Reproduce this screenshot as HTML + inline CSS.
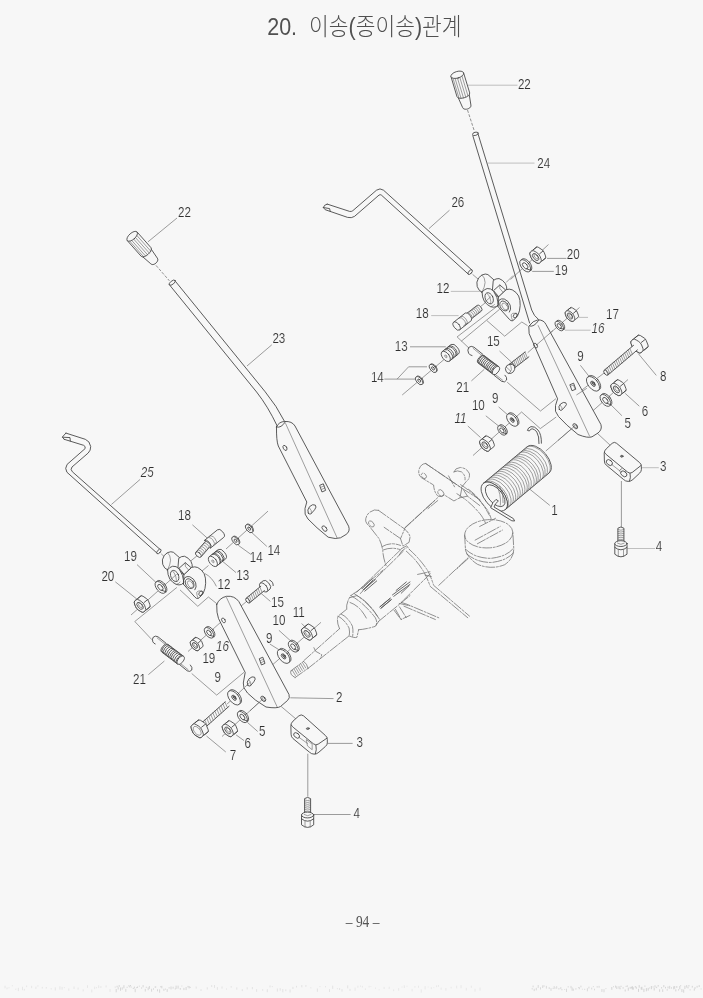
<!DOCTYPE html>
<html lang="ko"><head><meta charset="utf-8"><title>20. 이송(종이송)관계</title>
<style>
html,body{margin:0;padding:0;background:#f7f7f7}
body{width:703px;height:998px;overflow:hidden;position:relative}
svg{position:absolute;left:0;top:0;display:block;filter:grayscale(1)}
text{font-family:"Liberation Sans","Noto Sans CJK KR",sans-serif}
.lb{stroke:#f7f7f7;stroke-width:.14}
.pg{font-family:"Liberation Serif","Noto Serif CJK KR",serif}
.ti{font-family:"Liberation Sans","Noto Sans CJK KR",sans-serif;font-weight:300}
*{vector-effect:non-scaling-stroke}
.m{stroke:#414141;stroke-width:.86;stroke-linecap:round;stroke-linejoin:round}
.n{stroke:none}
.t{stroke:#5c5c5c;stroke-width:.58;stroke-linecap:round;fill:none}
.l{stroke:#626262;stroke-width:.62;fill:none}
.f{stroke:#999;stroke-width:.6;fill:none}
.d{stroke:#666;stroke-width:.7;fill:none;stroke-dasharray:3 1.5}
.p2{stroke:#5a5a5a;stroke-width:.9;fill:none;stroke-linecap:round}
.p{stroke:#6e6e6e;stroke-width:.75;fill:none;stroke-dasharray:9 1.6 2 1.6;stroke-linecap:round;stroke-linejoin:round}
</style></head>
<body>
<svg width="703" height="998" viewBox="0 0 703 998">
<rect width="703" height="998" fill="#f7f7f7"/>
<path class="l" d="M449.5 210.2L429.0 228.6" fill="none" />
<path class="l" d="M547.0 258.4L566.3 258.4" fill="none" />
<path class="l" d="M532.2 271.4L553.8 271.4" fill="none" />
<path class="l" d="M410.0 346.8L445.8 346.8" fill="none" />
<path class="l" d="M499.5 351.0L511.0 361.7" fill="none" />
<path class="l" d="M580.4 365.3L589.4 376.8" fill="none" />
<path class="l" d="M638.3 353.6L656.3 375.4" fill="none" />
<path class="l" d="M384.3 379.1L397.1 379.1L408.6 366.8L427.0 366.8" fill="none" />
<path class="l" d="M397.1 379.1L415.0 379.1" fill="none" />
<path class="l" d="M471.4 380.9L484.2 369.4" fill="none" />
<path class="l" d="M625.2 393.4L639.3 406.2" fill="none" />
<path class="l" d="M611.1 405.0L621.9 415.7" fill="none" />
<path class="l" d="M485.8 415.8L498.6 426.0" fill="none" />
<path class="l" d="M498.6 406.9L508.8 415.8" fill="none" />
<path class="l" d="M467.8 426.0L480.6 437.6" fill="none" />
<path class="l" d="M529.3 488.8L549.8 505.4" fill="none" />
<path class="l" d="M177.0 218.0L147.9 241.9" fill="none" />
<path class="l" d="M271.8 344.8L247.0 366.0" fill="none" />
<path class="l" d="M140.1 479.4L111.4 504.5" fill="none" />
<path class="l" d="M192.4 524.8L207.6 538.4" fill="none" />
<path class="l" d="M238.3 545.3L250.9 554.4" fill="none" />
<path class="l" d="M252.0 532.8L266.8 546.4" fill="none" />
<path class="l" d="M137.0 564.6L156.2 582.6" fill="none" />
<path class="l" d="M115.3 581.8L137.0 599.2" fill="none" />
<path class="l" d="M222.4 561.2L236.0 572.6" fill="none" />
<path class="l" d="M261.1 593.4L270.4 601.4" fill="none" />
<path class="l" d="M301.7 623.5L306.2 628.0" fill="none" />
<path class="l" d="M278.9 630.3L290.3 640.6" fill="none" />
<path class="l" d="M269.8 644.0L278.9 649.7" fill="none" />
<path class="l" d="M148.4 674.6L164.4 661.0" fill="none" />
<path class="l" d="M290.3 697.8L333.5 698.6" fill="none" />
<path class="l" d="M247.4 722.4L257.7 731.5" fill="none" />
<path class="l" d="M236.1 734.9L244.0 740.6" fill="none" />
<path class="l" d="M206.5 736.0L225.8 752.0" fill="none" />
<path class="l" d="M327.7 743.4L352.6 743.4" fill="none" />
<path class="l" d="M313.4 814.5L350.6 814.5" fill="none" />
<path class="l" d="M513.1 275.5L506.1 282.5" fill="none" />
<path class="l" d="M469.2 348.3L457.1 336.9L496.9 306.4" fill="none" />
<path class="l" d="M486.9 320.6L504.7 336.2L521.8 322.0L527.5 325.6" fill="none" />
<path class="l" d="M461.3 341.2L499.7 309.2" fill="none" />
<path class="l" d="M402.2 395.0L444.5 359.1" fill="none" />
<path class="l" d="M548.5 244.5L510.5 279.5" fill="none" />
<path class="l" d="M579.5 307.5L537.0 344.5" fill="none" />
<path class="l" d="M527.7 352.7L534.4 346.8" fill="none" />
<path class="l" d="M606.0 371.5L573.5 396.5" fill="none" />
<path class="l" d="M628.0 379.5L577.5 424.5" fill="none" />
<path class="l" d="M473.0 455.5L521.6 412.0L540.3 428.6L556.2 417.0" fill="none" />
<path class="l" d="M507.2 382.2L540.5 411.0L556.0 398.6" fill="none" />
<path class="l" d="M574.0 426.7L545.8 451.0" fill="none" />
<path class="l" d="M268.0 511.1L226.0 549.0" fill="none" />
<path class="l" d="M208.5 565.5L195.0 577.0" fill="none" />
<path class="l" d="M198.0 555.0L189.5 562.0" fill="none" />
<path class="l" d="M172.0 578.5L131.0 615.0" fill="none" />
<path class="l" d="M176.9 587.4L134.8 621.5L151.9 639.7" fill="none" />
<path class="l" d="M180.0 589.9L197.8 606.3L208.4 597.0L217.3 604.1" fill="none" />
<path class="l" d="M247.6 600.6L240.6 606.4" fill="none" />
<path class="l" d="M223.4 619.8L188.0 651.5" fill="none" />
<path class="l" d="M321.0 622.3L266.0 670.5" fill="none" />
<path class="l" d="M191.7 673.5L216.7 695.1L244.0 672.3" fill="none" />
<path class="l" d="M227.0 704.2L250.9 681.4" fill="none" />
<path class="l" d="M222.0 736.5L263.0 698.8" fill="none" />
<path class="l" d="M204.9 573.6Q212 577 216.4 586.4" fill="none" />
<path class="f" d="M468.0 85.2L517.5 85.2" fill="none" />
<path class="f" d="M487.6 163.1L534.5 163.1" fill="none" />
<path class="f" d="M450.8 291.4L484.0 291.4" fill="none" />
<path class="f" d="M431.2 315.6L458.6 315.6" fill="none" />
<path class="f" d="M578.6 317.4L588.0 317.4" fill="none" />
<path class="f" d="M565.0 330.2L590.6 330.2" fill="none" />
<path class="f" d="M642.1 467.7L658.8 467.7" fill="none" />
<path class="f" d="M627.3 548.5L655.0 548.5" fill="none" />
<path class="l" d="M597.0 433.0L611.0 446.0"/>
<path class="l" d="M621.4 481.0L621.4 527.2"/>
<path class="l" d="M281.2 706.5L296.0 719.0"/>
<path class="l" d="M307.8 753.7L307.8 796.6"/>
<path class="m" d="M457.7 96.5L462.6 107.5C463.8 111.1 472.0 108.6 470.9 105.0L469.0 93.1" fill="#f7f7f7" />
<path class="m" d="M451.0 76.7L457.0 96.7C458.5 100.5 470.5 96.9 469.7 92.9L463.6 72.9" fill="#f7f7f7" />
<path class="t" d="M462.0 76.1L468.0 96.0"/>
<path class="t" d="M459.8 77.4L465.8 97.2"/>
<path class="t" d="M457.5 78.2L463.5 98.0"/>
<path class="t" d="M455.1 78.5L461.1 98.4"/>
<path class="t" d="M453.0 78.3L459.0 98.2"/>
<ellipse class="m" cx="457.3" cy="74.8" rx="3.3" ry="6.6" fill="#f7f7f7" transform="rotate(73.2 457.3 74.8)"/>
<path class="m" d="M141.7 255.9L150.8 263.8C153.4 266.7 159.8 260.9 157.3 258.1L150.5 248.1" fill="#f7f7f7" />
<path class="m" d="M127.3 240.6L141.2 256.3C144.2 259.1 153.4 250.9 151.0 247.7L137.1 232.0" fill="#f7f7f7" />
<path class="t" d="M136.9 235.5L150.7 251.1"/>
<path class="t" d="M135.5 237.6L149.3 253.1"/>
<path class="t" d="M133.8 239.2L147.6 254.8"/>
<path class="t" d="M131.8 240.5L145.6 256.1"/>
<path class="t" d="M129.8 241.2L143.6 256.8"/>
<ellipse class="m" cx="132.2" cy="236.3" rx="3.2" ry="6.5" fill="#f7f7f7" transform="rotate(48.4 132.2 236.3)"/>
<path class="d" d="M467.5 110.0L474.5 131.5"/>
<path class="d" d="M156.0 265.4L169.4 280.8"/>
<path class="m" d="M472.8 135.6L529.6 323M478.2 134.4L531.7 310Q533.8 316 538.5 319.5" fill="none" />
<ellipse class="m" cx="475.4" cy="133.8" rx="2.9" ry="1.6" fill="#f7f7f7" transform="rotate(-15.0 475.4 133.8)"/>
<path class="m" d="M169 284.3L256.6 392Q268 406.5 277.2 426M175.4 281.3L265.2 391.8Q276.8 406 284.6 421.5" fill="none" />
<ellipse class="m" cx="172.3" cy="282.6" rx="3.6" ry="1.7" fill="#f7f7f7" transform="rotate(-38.0 172.3 282.6)"/>
<path class="m" d="M529 326Q533 320.5 538 319.8Q544 320 546 324.5L600.9 424.5Q602.5 429.5 598 433L592 436.8Q588 438.5 578 434.5Q566 425 558.5 416.5Q554 411.5 555.5 405.5L557.6 398.8L529.3 334Z" fill="#f7f7f7" />
<path class="t" d="M538.2 325.6L589.6 436.2" fill="none" />
<path class="m" d="M529.5 326Q534 327.5 538.5 320.5" fill="none" />
<ellipse class="m" cx="535.6" cy="345.6" rx="1.6" ry="2.6" fill="none" transform="rotate(-30.0 535.6 345.6)"/>
<path class="m" d="M570.2 384.6L573.6 383.2L575.8 389.2L572.4 390.6Z" fill="none" />
<path class="t" d="M571.3 385.9L573.4 385L575 389" fill="none" />
<path class="m" d="M559.3 409.5Q557.8 406.5 560.5 404Q563.5 401.5 565.8 402.8Q567.5 404.3 565 406.8L561.6 410.2Q560 410.8 559.3 409.5Z" fill="none" />
<path class="t" d="M560.3 405.3Q562.5 407.5 562.2 409.5" fill="none" />
<ellipse class="m" cx="575.3" cy="426.2" rx="1.8" ry="3.0" fill="none" transform="rotate(-40.0 575.3 426.2)"/>
<ellipse class="t" cx="575.8" cy="426.5" rx="1.0" ry="1.9" fill="none" transform="rotate(-40.0 575.8 426.5)"/>
<path class="m" d="M276.5 426.8Q279 421.5 284.8 421.5Q292 421 295 426L348.6 526.2Q350.5 531.5 346 534.5L340.5 537.8Q336 539.5 328.2 537.2Q316 527.5 308 519Q303.8 514.5 305 508.5L306.8 502L278.3 446Q276.3 441 276.5 426.8Z" fill="#f7f7f7" />
<path class="t" d="M285.6 423.5L337 537.6" fill="none" />
<path class="m" d="M276.8 427Q281 428.5 285.4 421.8" fill="none" />
<ellipse class="m" cx="285.0" cy="447.9" rx="1.7" ry="2.8" fill="none" transform="rotate(-30.0 285.0 447.9)"/>
<path class="m" d="M320 485.2L323.3 483.8L325.6 490.4L322.3 491.8Z" fill="none" />
<path class="t" d="M320.8 487.3L324.1 485.9M321.6 489.4L324.9 488" fill="none" />
<path class="m" d="M308.3 513.2Q306.6 510 309.6 506.6Q312.8 503.6 315.3 505.1Q317 506.8 314.6 509.8L310.8 514Q309 514.6 308.3 513.2Z" fill="none" />
<path class="t" d="M309.6 508Q312 510.3 311.5 513" fill="none" />
<ellipse class="m" cx="324.5" cy="528.6" rx="1.9" ry="3.2" fill="none" transform="rotate(-40.0 324.5 528.6)"/>
<path class="m" d="M216.7 604.6Q219 598 226.5 596.3Q234.5 595.5 238.8 601.5L289 694.5Q290.3 698 287.5 700.5L280.5 706.5Q277 708.8 266 707Q254 700 247.5 693Q242.5 687.5 243.3 683L245.2 672.5L218.5 618.5Q216.4 613 216.7 604.6Z" fill="#f7f7f7" />
<path class="t" d="M226.5 597.5L277.3 707.2" fill="none" />
<ellipse class="m" cx="223.5" cy="620.4" rx="1.6" ry="2.6" fill="none" transform="rotate(-30.0 223.5 620.4)"/>
<path class="m" d="M259.6 658.6L262.8 657.2L265 663.4L261.8 664.8Z" fill="none" />
<path class="t" d="M260.4 660.6L263.6 659.2M261.2 662.6L264.4 661.2" fill="none" />
<path class="m" d="M247.7 685.2Q246 682 249 678.8Q252.2 675.8 254.6 677.2Q256.2 678.8 253.8 681.8L250.2 686Q248.4 686.6 247.7 685.2Z" fill="none" />
<path class="t" d="M249 680Q251.4 682.3 250.9 685" fill="none" />
<ellipse class="m" cx="263.3" cy="698.8" rx="1.9" ry="3.1" fill="none" transform="rotate(-40.0 263.3 698.8)"/>
<ellipse class="t" cx="263.8" cy="699.1" rx="1.0" ry="1.9" fill="none" transform="rotate(-40.0 263.8 699.1)"/>
<path class="m" d="M327.2 204.1L349.6 211.4Q351.4 211.8 352.8 210.7L376.5 190.2Q380 187.6 383.5 190.2L471.7 269.8M323.3 207.5L325.2 209.7L347.6 217.4Q351.5 218.4 354.5 216.4L379 195.1Q380.2 194.2 381.5 195.2L468.5 274.3" fill="none" />
<path class="m" d="M327.2 204.1Q324 204.6 323.3 207.5M323.8 207.6L329.6 208.6L330.2 211.2" fill="none" />
<ellipse class="m" cx="470.2" cy="272.1" rx="1.5" ry="2.9" fill="#f7f7f7" transform="rotate(42.0 470.2 272.1)"/>
<path class="l" d="M472.6 274.4L478.0 279.0"/>
<path class="m" d="M65.9 433.1L85.3 439.3Q89.8 441 90.7 446.5Q90.8 450.5 88.2 453L72 467Q70 469.5 72.4 471.8L160.4 549.7M64.2 439.3L83.6 445.3Q85.8 446.2 85.1 448.6L67.1 464.4Q64.4 468.4 66.9 472.2L157.2 553.3" fill="none" />
<path class="m" d="M65.9 433.1L62.3 437.1L64.2 439.3M62.8 437.2L70 437.6L70.3 441" fill="none" />
<ellipse class="m" cx="158.9" cy="551.5" rx="1.5" ry="2.8" fill="#f7f7f7" transform="rotate(43.0 158.9 551.5)"/>
<path class="l" d="M161.2 553.8L165.0 557.4"/>
<g transform="translate(460.00 255.00) scale(0.12802)" >
<path class="m" d="M268 197L218 153Q200 143 172 156Q140 172 132 212Q128 250 150 275L172 290L262 300Z" fill="#f7f7f7" />
<path class="t" d="M172 156Q196 176 196 215Q194 250 172 290" fill="none" />
<path class="m" d="M262 198Q280 182 305 184Q335 194 355 224Q368 250 365 270L300 330L255 280Z" fill="#f7f7f7" />
<path class="m" d="M264 276L311 234L357 274L306 326Z" fill="#f7f7f7" />
<path class="t" d="M311 234L311 262L337 292" fill="none" />
<path class="m" d="M363 270Q385 262 408 272Q440 288 458 320Q472 352 470 395Q468 440 452 470Q436 498 412 513Q398 518 386 503L296 402L300 330Z" fill="#f7f7f7" />
<path class="t" d="M412 513Q398 488 400 466Q418 440 452 470" fill="none" />
<path class="m" d="M172 290Q172 330 190 362Q212 392 240 404Q262 412 282 404L300 388Q296 330 262 282Q240 258 212 262Q188 268 172 290Z" fill="#f7f7f7" />
<path class="t" d="M240 404Q262 400 270 386" fill="none" />
<ellipse class="m" cx="228.0" cy="338.0" rx="30.0" ry="46.0" fill="none" transform="rotate(-24.0 228.0 338.0)"/>
<path class="t" d="M212 300Q226 312 236 340Q244 366 240 380" fill="none" />
<path class="m" d="M296 402Q292 372 306 352Q322 338 346 344Q378 356 392 392Q402 426 386 446" fill="none" />
<ellipse class="m" cx="345.0" cy="398.0" rx="30.0" ry="42.0" fill="none" transform="rotate(-35.0 345.0 398.0)"/>
<ellipse class="t" cx="350.0" cy="402.0" rx="18.0" ry="30.0" fill="none" transform="rotate(-35.0 350.0 402.0)"/>
<ellipse class="m" cx="432.0" cy="473.0" rx="13.0" ry="20.0" fill="none" transform="rotate(30.0 432.0 473.0)"/>
</g>
<g transform="translate(145.50 532.70) scale(0.12802)" >
<path class="m" d="M268 197L218 153Q200 143 172 156Q140 172 132 212Q128 250 150 275L172 290L262 300Z" fill="#f7f7f7" />
<path class="t" d="M172 156Q196 176 196 215Q194 250 172 290" fill="none" />
<path class="m" d="M262 198Q280 182 305 184Q335 194 355 224Q368 250 365 270L300 330L255 280Z" fill="#f7f7f7" />
<path class="m" d="M264 276L311 234L357 274L306 326Z" fill="#f7f7f7" />
<path class="t" d="M311 234L311 262L337 292" fill="none" />
<path class="m" d="M363 270Q385 262 408 272Q440 288 458 320Q472 352 470 395Q468 440 452 470Q436 498 412 513Q398 518 386 503L296 402L300 330Z" fill="#f7f7f7" />
<path class="t" d="M412 513Q398 488 400 466Q418 440 452 470" fill="none" />
<path class="m" d="M172 290Q172 330 190 362Q212 392 240 404Q262 412 282 404L300 388Q296 330 262 282Q240 258 212 262Q188 268 172 290Z" fill="#f7f7f7" />
<path class="t" d="M240 404Q262 400 270 386" fill="none" />
<ellipse class="m" cx="228.0" cy="338.0" rx="30.0" ry="46.0" fill="none" transform="rotate(-24.0 228.0 338.0)"/>
<path class="t" d="M212 300Q226 312 236 340Q244 366 240 380" fill="none" />
<path class="m" d="M296 402Q292 372 306 352Q322 338 346 344Q378 356 392 392Q402 426 386 446" fill="none" />
<ellipse class="m" cx="345.0" cy="398.0" rx="30.0" ry="42.0" fill="none" transform="rotate(-35.0 345.0 398.0)"/>
<ellipse class="t" cx="350.0" cy="402.0" rx="18.0" ry="30.0" fill="none" transform="rotate(-35.0 350.0 402.0)"/>
<ellipse class="m" cx="432.0" cy="473.0" rx="13.0" ry="20.0" fill="none" transform="rotate(30.0 432.0 473.0)"/>
</g>
<path class="m" d="M470.2 319.8L481.5 311.0A1.96 3.50 -37.9 0 0 477.1 305.4L465.8 314.2" fill="#f7f7f7" />
<path class="t" d="M471.8 318.5A1.96 3.50 -37.9 0 0 467.5 313.0" fill="none" />
<path class="t" d="M473.4 317.2A1.96 3.50 -37.9 0 0 469.1 311.7" fill="none" />
<path class="t" d="M475.0 316.0A1.96 3.50 -37.9 0 0 470.7 310.5" fill="none" />
<path class="t" d="M476.6 314.7A1.96 3.50 -37.9 0 0 472.3 309.2" fill="none" />
<path class="t" d="M478.2 313.5A1.96 3.50 -37.9 0 0 473.9 308.0" fill="none" />
<path class="t" d="M479.8 312.2A1.96 3.50 -37.9 0 0 475.5 306.7" fill="none" />
<ellipse class="m" cx="468.0" cy="317.0" rx="2.0" ry="3.5" fill="#f7f7f7" transform="rotate(-37.9 468.0 317.0)"/>
<path class="m" d="M459.7 329.8L471.3 320.6A2.74 4.90 -38.4 0 0 465.3 313.0L453.7 322.2" fill="#f7f7f7" />
<path class="t" d="M465.0 325.7A2.74 4.90 -38.4 0 0 458.9 318.0" fill="none" />
<path class="t" d="M466.9 324.1A2.74 4.90 -38.4 0 0 460.8 316.5" fill="none" />
<ellipse class="m" cx="456.7" cy="326.0" rx="2.7" ry="4.9" fill="#f7f7f7" transform="rotate(-38.4 456.7 326.0)"/>
<path class="t" d="M463.3 326.2Q465.2 323.8 467.6 323.2" fill="none" />
<path class="m" d="M210.5 548.1L223.7 537.4A2.74 4.90 -39.0 0 0 217.5 529.8L204.3 540.5" fill="#f7f7f7" />
<path class="t" d="M213.8 545.4A2.74 4.90 -39.0 0 0 207.6 537.8" fill="none" />
<path class="t" d="M215.8 543.8A2.74 4.90 -39.0 0 0 209.6 536.2" fill="none" />
<path class="m" d="M210.5 548.1A2.74 4.90 -39.0 0 0 204.3 540.5" fill="#f7f7f7" />
<path class="m" d="M201.0 556.9L210.2 546.4A1.96 3.50 -48.8 0 0 205.0 541.8L195.8 552.3" fill="#f7f7f7" />
<path class="t" d="M202.6 555.2A1.96 3.50 -48.8 0 0 197.3 550.5" fill="none" />
<path class="t" d="M204.1 553.4A1.96 3.50 -48.8 0 0 198.8 548.8" fill="none" />
<path class="t" d="M205.6 551.7A1.96 3.50 -48.8 0 0 200.4 547.0" fill="none" />
<path class="t" d="M207.2 549.9A1.96 3.50 -48.8 0 0 201.9 545.3" fill="none" />
<path class="t" d="M208.7 548.2A1.96 3.50 -48.8 0 0 203.4 543.5" fill="none" />
<ellipse class="m" cx="198.4" cy="554.6" rx="2.0" ry="3.5" fill="#f7f7f7" transform="rotate(-48.8 198.4 554.6)"/>
<path class="m" d="M449.5 361.1L458.5 353.9A3.36 6.00 -38.7 0 0 451.1 344.5L442.1 351.7" fill="#f7f7f7" />
<path class="m" d="M452.2 358.9A3.36 6.00 -38.7 0 0 444.8 349.6" fill="none" />
<path class="m" d="M453.3 358.1A3.36 6.00 -38.7 0 0 445.8 348.7" fill="none" />
<path class="m" d="M455.3 356.5A3.36 6.00 -38.7 0 0 447.8 347.1" fill="none" />
<path class="m" d="M456.4 355.6A3.36 6.00 -38.7 0 0 448.9 346.2" fill="none" />
<ellipse class="m" cx="445.8" cy="356.4" rx="3.4" ry="6.0" fill="#f7f7f7" transform="rotate(-38.7 445.8 356.4)"/>
<ellipse class="t" cx="445.8" cy="356.4" rx="0.9" ry="1.6" fill="none" transform="rotate(-38.7 445.8 356.4)"/>
<path class="m" d="M216.6 566.1L225.7 558.9A3.36 6.00 -38.4 0 0 218.3 549.5L209.2 556.7" fill="#f7f7f7" />
<path class="m" d="M219.4 563.9A3.36 6.00 -38.4 0 0 211.9 554.5" fill="none" />
<path class="m" d="M220.4 563.1A3.36 6.00 -38.4 0 0 213.0 553.7" fill="none" />
<path class="m" d="M222.4 561.5A3.36 6.00 -38.4 0 0 215.0 552.1" fill="none" />
<path class="m" d="M223.5 560.6A3.36 6.00 -38.4 0 0 216.1 551.2" fill="none" />
<ellipse class="m" cx="212.9" cy="561.4" rx="3.4" ry="6.0" fill="#f7f7f7" transform="rotate(-38.4 212.9 561.4)"/>
<ellipse class="t" cx="212.9" cy="561.4" rx="0.9" ry="1.6" fill="none" transform="rotate(-38.4 212.9 561.4)"/>
<ellipse class="m" cx="433.6" cy="367.9" rx="2.7" ry="4.8" fill="#f7f7f7" transform="rotate(-39.0 433.6 367.9)"/>
<ellipse class="m" cx="433.0" cy="368.4" rx="2.7" ry="4.8" fill="#f7f7f7" transform="rotate(-39.0 433.0 368.4)"/>
<ellipse class="m" cx="433.0" cy="368.4" rx="1.1" ry="1.9" fill="none" transform="rotate(-39.0 433.0 368.4)"/>
<ellipse class="m" cx="419.8" cy="380.1" rx="2.7" ry="4.8" fill="#f7f7f7" transform="rotate(-39.0 419.8 380.1)"/>
<ellipse class="m" cx="419.2" cy="380.6" rx="2.7" ry="4.8" fill="#f7f7f7" transform="rotate(-39.0 419.2 380.6)"/>
<ellipse class="m" cx="419.2" cy="380.6" rx="1.1" ry="1.9" fill="none" transform="rotate(-39.0 419.2 380.6)"/>
<ellipse class="m" cx="236.2" cy="540.2" rx="2.7" ry="4.8" fill="#f7f7f7" transform="rotate(-39.0 236.2 540.2)"/>
<ellipse class="m" cx="235.6" cy="540.7" rx="2.7" ry="4.8" fill="#f7f7f7" transform="rotate(-39.0 235.6 540.7)"/>
<ellipse class="m" cx="235.6" cy="540.7" rx="1.1" ry="1.9" fill="none" transform="rotate(-39.0 235.6 540.7)"/>
<ellipse class="m" cx="249.8" cy="528.1" rx="2.7" ry="4.8" fill="#f7f7f7" transform="rotate(-39.0 249.8 528.1)"/>
<ellipse class="m" cx="249.2" cy="528.6" rx="2.7" ry="4.8" fill="#f7f7f7" transform="rotate(-39.0 249.2 528.6)"/>
<ellipse class="m" cx="249.2" cy="528.6" rx="1.1" ry="1.9" fill="none" transform="rotate(-39.0 249.2 528.6)"/>
<ellipse class="m" cx="526.4" cy="264.8" rx="4.0" ry="7.2" fill="#f7f7f7" transform="rotate(-39.0 526.4 264.8)"/>
<ellipse class="m" cx="525.2" cy="265.8" rx="4.0" ry="7.2" fill="#f7f7f7" transform="rotate(-39.0 525.2 265.8)"/>
<ellipse class="m" cx="525.2" cy="265.8" rx="2.0" ry="3.6" fill="none" transform="rotate(-39.0 525.2 265.8)"/>
<path class="m" d="M526.6 268.8L531.0 270.4"/>
<path class="m" d="M530.0 254.6Q529.4 252.9 530.4 252.1L532.6 250.3Q533.6 249.5 534.5 248.8L536.3 247.3Q537.2 246.6 538.7 247.5L541.9 249.7Q543.4 250.7 544.1 252.3L545.5 255.9Q546.1 257.6 545.3 258.3L543.4 259.8Q542.6 260.5 541.5 261.3L539.3 263.1Q538.3 264.0 536.8 263.0L533.5 260.9Q532.0 259.9 531.4 258.2Z" fill="#f7f7f7" />
<path class="m" d="M539.7 253.7L543.0 251.0"/>
<path class="m" d="M542.4 260.7L545.7 258.0"/>
<path class="m" d="M533.4 249.6L536.8 246.9"/>
<path class="m" d="M537.1 252.8Q539.2 254.1 540.1 256.4L541.0 258.8Q541.9 261.1 540.7 262.0L539.5 263.0Q538.3 264.0 536.2 262.6L534.1 261.2Q532.0 259.9 531.1 257.6L530.2 255.2Q529.3 252.9 530.5 252.0L531.7 251.0Q532.9 250.0 535.0 251.4Z" fill="#f7f7f7" />
<ellipse class="m" cx="535.6" cy="257.0" rx="2.3" ry="4.1" fill="none" transform="rotate(-39.0 535.6 257.0)"/>
<ellipse class="t" cx="536.1" cy="256.6" rx="1.4" ry="2.5" fill="none" transform="rotate(-39.0 536.1 256.6)"/>
<ellipse class="m" cx="560.5" cy="325.0" rx="3.1" ry="5.6" fill="#f7f7f7" transform="rotate(-39.0 560.5 325.0)"/>
<ellipse class="m" cx="559.3" cy="326.0" rx="3.1" ry="5.6" fill="#f7f7f7" transform="rotate(-39.0 559.3 326.0)"/>
<ellipse class="m" cx="559.3" cy="326.0" rx="1.6" ry="2.8" fill="none" transform="rotate(-39.0 559.3 326.0)"/>
<path class="m" d="M560.4 328.4L564.1 329.3"/>
<path class="m" d="M565.2 313.9Q564.7 312.5 566.2 311.2L569.7 308.4Q571.3 307.2 572.6 308.0L575.3 309.8Q576.6 310.6 577.2 312.1L578.4 315.2Q578.9 316.6 578.2 317.2L576.6 318.5Q575.9 319.1 575.7 319.2L575.5 319.4Q575.3 319.5 574.6 320.1L573.0 321.3Q572.3 321.9 571.0 321.1L568.2 319.3Q567.0 318.5 566.4 317.0Z" fill="#f7f7f7" />
<path class="m" d="M573.5 313.2L576.3 310.9"/>
<path class="m" d="M568.1 309.7L570.9 307.4"/>
<path class="m" d="M571.3 312.4Q573.0 313.5 573.8 315.5L574.6 317.5Q575.3 319.5 574.3 320.3L573.3 321.1Q572.3 321.9 570.5 320.8L568.7 319.6Q567.0 318.5 566.2 316.5L565.4 314.5Q564.7 312.5 565.7 311.7L566.7 310.9Q567.7 310.1 569.5 311.2Z" fill="#f7f7f7" />
<ellipse class="m" cx="570.0" cy="316.0" rx="2.0" ry="3.5" fill="none" transform="rotate(-39.0 570.0 316.0)"/>
<ellipse class="t" cx="570.5" cy="315.6" rx="1.2" ry="2.2" fill="none" transform="rotate(-39.0 570.5 315.6)"/>
<ellipse class="m" cx="594.2" cy="382.8" rx="4.8" ry="8.6" fill="#f7f7f7" transform="rotate(-39.0 594.2 382.8)"/>
<ellipse class="m" cx="593.0" cy="383.8" rx="4.8" ry="8.6" fill="#f7f7f7" transform="rotate(-39.0 593.0 383.8)"/>
<ellipse class="m" cx="593.0" cy="383.8" rx="1.7" ry="3.1" fill="none" transform="rotate(-39.0 593.0 383.8)"/>
<ellipse class="m" cx="593.4" cy="383.5" rx="1.0" ry="1.9" fill="#8a8a8a" transform="rotate(-39.0 593.4 383.5)"/>
<ellipse class="m" cx="606.6" cy="399.4" rx="3.9" ry="7.0" fill="#f7f7f7" transform="rotate(-39.0 606.6 399.4)"/>
<ellipse class="m" cx="605.4" cy="400.4" rx="3.9" ry="7.0" fill="#f7f7f7" transform="rotate(-39.0 605.4 400.4)"/>
<ellipse class="m" cx="605.4" cy="400.4" rx="2.0" ry="3.5" fill="none" transform="rotate(-39.0 605.4 400.4)"/>
<path class="m" d="M606.8 403.3L611.0 404.8"/>
<path class="m" d="M610.9 387.1Q610.3 385.4 611.3 384.6L613.4 382.9Q614.3 382.1 615.2 381.5L617.0 380.0Q617.8 379.3 619.3 380.3L622.5 382.4Q623.9 383.3 624.5 384.9L625.9 388.5Q626.5 390.1 625.7 390.8L623.9 392.2Q623.1 392.9 622.1 393.7L620.0 395.4Q619.0 396.2 617.6 395.2L614.4 393.2Q612.9 392.2 612.3 390.6Z" fill="#f7f7f7" />
<path class="m" d="M620.4 386.2L623.5 383.6"/>
<path class="m" d="M623.0 393.0L626.1 390.4"/>
<path class="m" d="M614.3 382.2L617.4 379.7"/>
<path class="m" d="M617.9 385.3Q619.9 386.6 620.7 388.8L621.6 391.1Q622.5 393.4 621.4 394.3L620.2 395.3Q619.0 396.2 617.0 394.9L614.9 393.5Q612.9 392.2 612.1 390.0L611.2 387.7Q610.3 385.4 611.4 384.5L612.6 383.5Q613.8 382.6 615.8 383.9Z" fill="#f7f7f7" />
<ellipse class="m" cx="616.4" cy="389.4" rx="2.2" ry="4.0" fill="none" transform="rotate(-39.0 616.4 389.4)"/>
<ellipse class="t" cx="616.9" cy="389.0" rx="1.4" ry="2.5" fill="none" transform="rotate(-39.0 616.9 389.0)"/>
<ellipse class="m" cx="513.4" cy="419.0" rx="4.1" ry="7.4" fill="#f7f7f7" transform="rotate(-39.0 513.4 419.0)"/>
<ellipse class="m" cx="512.2" cy="420.0" rx="4.1" ry="7.4" fill="#f7f7f7" transform="rotate(-39.0 512.2 420.0)"/>
<ellipse class="m" cx="512.2" cy="420.0" rx="1.5" ry="2.7" fill="none" transform="rotate(-39.0 512.2 420.0)"/>
<ellipse class="m" cx="512.6" cy="419.7" rx="0.8" ry="1.6" fill="#8a8a8a" transform="rotate(-39.0 512.6 419.7)"/>
<ellipse class="m" cx="503.1" cy="429.4" rx="3.1" ry="5.6" fill="#f7f7f7" transform="rotate(-39.0 503.1 429.4)"/>
<ellipse class="m" cx="501.9" cy="430.4" rx="3.1" ry="5.6" fill="#f7f7f7" transform="rotate(-39.0 501.9 430.4)"/>
<ellipse class="m" cx="501.9" cy="430.4" rx="1.6" ry="2.8" fill="none" transform="rotate(-39.0 501.9 430.4)"/>
<path class="m" d="M503.0 432.8L506.7 433.7"/>
<path class="m" d="M479.7 442.9Q479.1 441.3 480.8 439.9L484.6 436.8Q486.3 435.4 487.8 436.4L490.9 438.4Q492.3 439.3 492.9 440.9L494.2 444.3Q494.8 445.9 493.9 446.7L491.9 448.3Q490.9 449.1 490.1 449.7L488.4 451.2Q487.6 451.8 486.1 450.9L483.0 448.9Q481.6 447.9 481.0 446.4Z" fill="#f7f7f7" />
<path class="m" d="M488.9 442.1L491.9 439.6"/>
<path class="m" d="M482.9 438.2L485.9 435.7"/>
<path class="m" d="M486.4 441.2Q488.4 442.5 489.2 444.6L490.1 446.9Q490.9 449.1 489.8 450.0L488.7 450.9Q487.6 451.8 485.6 450.5L483.6 449.2Q481.6 447.9 480.8 445.8L479.9 443.5Q479.1 441.3 480.2 440.4L481.3 439.5Q482.4 438.6 484.4 439.9Z" fill="#f7f7f7" />
<ellipse class="m" cx="485.0" cy="445.2" rx="2.2" ry="3.9" fill="none" transform="rotate(-39.0 485.0 445.2)"/>
<ellipse class="t" cx="485.5" cy="444.8" rx="1.4" ry="2.4" fill="none" transform="rotate(-39.0 485.5 444.8)"/>
<ellipse class="m" cx="161.6" cy="586.4" rx="3.9" ry="7.0" fill="#f7f7f7" transform="rotate(-39.0 161.6 586.4)"/>
<ellipse class="m" cx="160.4" cy="587.4" rx="3.9" ry="7.0" fill="#f7f7f7" transform="rotate(-39.0 160.4 587.4)"/>
<ellipse class="m" cx="160.4" cy="587.4" rx="2.0" ry="3.5" fill="none" transform="rotate(-39.0 160.4 587.4)"/>
<path class="m" d="M161.8 590.3L166.0 591.8"/>
<path class="m" d="M134.4 603.4Q133.8 601.7 134.8 600.9L137.0 599.1Q138.0 598.3 138.9 597.6L140.7 596.1Q141.6 595.4 143.1 596.3L146.3 598.5Q147.8 599.5 148.5 601.1L149.9 604.7Q150.5 606.4 149.7 607.1L147.8 608.6Q147.0 609.3 145.9 610.1L143.7 611.9Q142.7 612.8 141.2 611.8L137.9 609.7Q136.4 608.7 135.8 607.0Z" fill="#f7f7f7" />
<path class="m" d="M144.1 602.5L147.4 599.8"/>
<path class="m" d="M146.8 609.5L150.1 606.8"/>
<path class="m" d="M137.8 598.4L141.2 595.7"/>
<path class="m" d="M141.5 601.6Q143.6 602.9 144.5 605.2L145.4 607.6Q146.3 609.9 145.1 610.8L143.9 611.8Q142.7 612.8 140.6 611.4L138.5 610.0Q136.4 608.7 135.5 606.4L134.6 604.0Q133.7 601.7 134.9 600.8L136.1 599.8Q137.3 598.8 139.4 600.2Z" fill="#f7f7f7" />
<ellipse class="m" cx="140.0" cy="605.8" rx="2.3" ry="4.1" fill="none" transform="rotate(-39.0 140.0 605.8)"/>
<ellipse class="t" cx="140.5" cy="605.4" rx="1.4" ry="2.5" fill="none" transform="rotate(-39.0 140.5 605.4)"/>
<ellipse class="m" cx="210.2" cy="631.8" rx="3.5" ry="6.2" fill="#f7f7f7" transform="rotate(-39.0 210.2 631.8)"/>
<ellipse class="m" cx="209.0" cy="632.8" rx="3.5" ry="6.2" fill="#f7f7f7" transform="rotate(-39.0 209.0 632.8)"/>
<ellipse class="m" cx="209.0" cy="632.8" rx="1.7" ry="3.1" fill="none" transform="rotate(-39.0 209.0 632.8)"/>
<path class="m" d="M210.2 635.4L214.1 636.6"/>
<path class="m" d="M190.3 643.4Q189.8 642.0 191.3 640.8L194.5 638.2Q196.0 637.0 197.3 637.8L200.0 639.5Q201.2 640.4 201.8 641.7L202.9 644.8Q203.4 646.1 202.7 646.8L201.0 648.1Q200.2 648.8 199.5 649.4L197.9 650.6Q197.2 651.2 196.0 650.4L193.3 648.6Q192.0 647.8 191.5 646.4Z" fill="#f7f7f7" />
<path class="m" d="M198.4 642.7L200.9 640.6"/>
<path class="m" d="M193.2 639.3L195.7 637.2"/>
<path class="m" d="M196.2 641.9Q198.0 643.0 198.7 644.9L199.5 646.9Q200.2 648.8 199.2 649.6L198.2 650.4Q197.2 651.2 195.5 650.1L193.8 648.9Q192.0 647.8 191.3 645.9L190.5 643.9Q189.8 642.0 190.8 641.2L191.8 640.4Q192.8 639.6 194.5 640.7Z" fill="#f7f7f7" />
<ellipse class="m" cx="195.0" cy="645.4" rx="1.9" ry="3.4" fill="none" transform="rotate(-39.0 195.0 645.4)"/>
<ellipse class="t" cx="195.5" cy="645.0" rx="1.2" ry="2.1" fill="none" transform="rotate(-39.0 195.5 645.0)"/>
<ellipse class="m" cx="284.8" cy="655.4" rx="4.6" ry="8.2" fill="#f7f7f7" transform="rotate(-39.0 284.8 655.4)"/>
<ellipse class="m" cx="283.6" cy="656.4" rx="4.6" ry="8.2" fill="#f7f7f7" transform="rotate(-39.0 283.6 656.4)"/>
<ellipse class="m" cx="283.6" cy="656.4" rx="1.7" ry="3.0" fill="none" transform="rotate(-39.0 283.6 656.4)"/>
<ellipse class="m" cx="284.0" cy="656.1" rx="0.9" ry="1.8" fill="#8a8a8a" transform="rotate(-39.0 284.0 656.1)"/>
<ellipse class="m" cx="294.4" cy="645.6" rx="3.6" ry="6.4" fill="#f7f7f7" transform="rotate(-39.0 294.4 645.6)"/>
<ellipse class="m" cx="293.2" cy="646.6" rx="3.6" ry="6.4" fill="#f7f7f7" transform="rotate(-39.0 293.2 646.6)"/>
<ellipse class="m" cx="293.2" cy="646.6" rx="1.8" ry="3.2" fill="none" transform="rotate(-39.0 293.2 646.6)"/>
<path class="m" d="M294.5 649.3L298.5 650.6"/>
<path class="m" d="M301.5 631.5Q300.9 629.8 301.9 629.0L304.0 627.3Q304.9 626.5 305.8 625.9L307.6 624.4Q308.4 623.7 309.9 624.7L313.1 626.8Q314.5 627.7 315.1 629.3L316.5 632.9Q317.1 634.5 316.3 635.2L314.5 636.6Q313.7 637.3 312.7 638.1L310.6 639.8Q309.6 640.6 308.2 639.6L305.0 637.6Q303.5 636.6 302.9 635.0Z" fill="#f7f7f7" />
<path class="m" d="M311.0 630.6L314.1 628.0"/>
<path class="m" d="M313.6 637.4L316.7 634.8"/>
<path class="m" d="M304.9 626.6L308.0 624.1"/>
<path class="m" d="M308.5 629.7Q310.5 631.0 311.3 633.2L312.2 635.5Q313.1 637.8 312.0 638.7L310.8 639.7Q309.6 640.6 307.6 639.3L305.5 637.9Q303.5 636.6 302.7 634.4L301.8 632.1Q300.9 629.8 302.0 628.9L303.2 627.9Q304.4 627.0 306.4 628.3Z" fill="#f7f7f7" />
<ellipse class="m" cx="307.0" cy="633.8" rx="2.2" ry="4.0" fill="none" transform="rotate(-39.0 307.0 633.8)"/>
<ellipse class="t" cx="307.5" cy="633.4" rx="1.4" ry="2.5" fill="none" transform="rotate(-39.0 307.5 633.4)"/>
<ellipse class="m" cx="235.2" cy="696.8" rx="4.7" ry="8.4" fill="#f7f7f7" transform="rotate(-39.0 235.2 696.8)"/>
<ellipse class="m" cx="234.0" cy="697.8" rx="4.7" ry="8.4" fill="#f7f7f7" transform="rotate(-39.0 234.0 697.8)"/>
<ellipse class="m" cx="234.0" cy="697.8" rx="1.7" ry="3.0" fill="none" transform="rotate(-39.0 234.0 697.8)"/>
<ellipse class="m" cx="234.4" cy="697.5" rx="0.9" ry="1.8" fill="#8a8a8a" transform="rotate(-39.0 234.4 697.5)"/>
<ellipse class="m" cx="243.6" cy="716.0" rx="3.7" ry="6.6" fill="#f7f7f7" transform="rotate(-39.0 243.6 716.0)"/>
<ellipse class="m" cx="242.4" cy="717.0" rx="3.7" ry="6.6" fill="#f7f7f7" transform="rotate(-39.0 242.4 717.0)"/>
<ellipse class="m" cx="242.4" cy="717.0" rx="1.8" ry="3.3" fill="none" transform="rotate(-39.0 242.4 717.0)"/>
<path class="m" d="M243.7 719.8L247.8 721.1"/>
<path class="m" d="M222.3 728.1Q221.7 726.4 222.7 725.6L224.8 723.9Q225.7 723.1 226.6 722.5L228.4 721.0Q229.2 720.3 230.7 721.3L233.9 723.4Q235.3 724.3 235.9 725.9L237.3 729.5Q237.9 731.1 237.1 731.8L235.3 733.2Q234.5 733.9 233.5 734.7L231.4 736.4Q230.4 737.2 229.0 736.2L225.8 734.2Q224.3 733.2 223.7 731.6Z" fill="#f7f7f7" />
<path class="m" d="M231.8 727.2L234.9 724.6"/>
<path class="m" d="M234.4 734.0L237.5 731.4"/>
<path class="m" d="M225.7 723.2L228.8 720.7"/>
<path class="m" d="M229.3 726.3Q231.3 727.6 232.1 729.8L233.0 732.1Q233.9 734.4 232.8 735.3L231.6 736.3Q230.4 737.2 228.4 735.9L226.3 734.5Q224.3 733.2 223.5 731.0L222.6 728.7Q221.7 726.4 222.8 725.5L224.0 724.5Q225.2 723.6 227.2 724.9Z" fill="#f7f7f7" />
<ellipse class="m" cx="227.8" cy="730.4" rx="2.2" ry="4.0" fill="none" transform="rotate(-39.0 227.8 730.4)"/>
<ellipse class="t" cx="228.3" cy="730.0" rx="1.4" ry="2.5" fill="none" transform="rotate(-39.0 228.3 730.0)"/>
<path class="m" d="M630.9 343.1Q630.3 341.6 632.0 340.2L637.2 336.0Q638.9 334.6 640.3 335.5L644.3 338.1Q645.6 339.0 646.2 340.5L648.0 345.0Q648.5 346.5 647.8 347.1L645.5 348.9Q644.7 349.6 643.7 350.4L640.8 352.7Q639.9 353.5 638.5 352.6L634.5 350.0Q633.2 349.1 632.6 347.6Z" fill="#f7f7f7" />
<path class="m" d="M641.4 342.4L645.2 339.4"/>
<path class="m" d="M644.3 349.9L648.0 346.9"/>
<path class="m" d="M634.7 338.1L638.5 335.0"/>
<path class="m" d="M639.0 341.7Q640.8 342.9 641.6 345.0L642.9 348.3Q643.7 350.4 642.6 351.2L641.0 352.6Q639.9 353.5 638.0 352.2L635.0 350.3Q633.2 349.1 632.4 347.0L631.1 343.7Q630.3 341.6 631.4 340.8L633.0 339.4Q634.1 338.5 636.0 339.8Z" fill="#f7f7f7" />
<path class="n" d="M633.6 345.3L604.1 370.4L607.9 375.0L637.4 349.9Z" fill="#f7f7f7" />
<path class="m" d="M633.6 345.3L604.1 370.4M637.4 349.9L607.9 375.0" fill="none" />
<ellipse class="m" cx="606.0" cy="372.7" rx="1.7" ry="3.0" fill="#f7f7f7" transform="rotate(139.6 606.0 372.7)"/>
<path class="t" d="M629.8 348.5L632.4 354.2"/>
<path class="t" d="M628.1 350.0L630.6 355.7"/>
<path class="t" d="M626.4 351.4L628.9 357.2"/>
<path class="t" d="M624.6 352.9L627.2 358.6"/>
<path class="t" d="M622.9 354.4L625.4 360.1"/>
<path class="t" d="M621.2 355.8L623.7 361.6"/>
<path class="t" d="M619.5 357.3L622.0 363.1"/>
<path class="t" d="M617.7 358.8L620.2 364.5"/>
<path class="t" d="M616.0 360.3L618.5 366.0"/>
<path class="t" d="M614.3 361.7L616.8 367.5"/>
<path class="t" d="M612.5 363.2L615.0 368.9"/>
<path class="t" d="M610.8 364.7L613.3 370.4"/>
<path class="t" d="M609.1 366.2L611.6 371.9"/>
<path class="t" d="M607.3 367.6L609.9 373.4"/>
<path class="t" d="M605.6 369.1L608.1 374.8"/>
<path class="n" d="M225.3 701.8L201.1 723.4L204.9 727.8L229.1 706.2Z" fill="#f7f7f7" />
<path class="m" d="M225.3 701.8L201.1 723.4M229.1 706.2L204.9 727.8" fill="none" />
<ellipse class="m" cx="203.0" cy="725.6" rx="1.6" ry="2.9" fill="#f7f7f7" transform="rotate(138.2 203.0 725.6)"/>
<path class="t" d="M224.9 702.1L227.5 707.7"/>
<path class="t" d="M222.9 703.9L225.4 709.5"/>
<path class="t" d="M220.9 705.7L223.4 711.3"/>
<path class="t" d="M218.9 707.5L221.4 713.1"/>
<path class="t" d="M216.9 709.3L219.4 714.9"/>
<path class="t" d="M214.8 711.1L217.4 716.7"/>
<path class="t" d="M212.8 712.9L215.4 718.5"/>
<path class="t" d="M210.8 714.7L213.3 720.3"/>
<path class="t" d="M208.8 716.5L211.3 722.1"/>
<path class="t" d="M206.8 718.3L209.3 723.9"/>
<path class="t" d="M204.8 720.1L207.3 725.7"/>
<path class="t" d="M202.7 721.9L205.3 727.5"/>
<path class="m" d="M191.1 727.9Q190.5 726.4 192.2 725.0L197.4 720.8Q199.1 719.4 200.5 720.3L204.5 722.9Q205.8 723.8 206.4 725.3L208.2 729.8Q208.7 731.3 208.0 731.9L205.7 733.8Q204.9 734.4 203.9 735.1L201.0 737.5Q200.1 738.3 198.7 737.4L194.7 734.8Q193.4 733.9 192.8 732.4Z" fill="#f7f7f7" />
<path class="m" d="M201.6 727.2L205.4 724.2"/>
<path class="m" d="M204.5 734.7L208.2 731.7"/>
<path class="m" d="M194.9 722.9L198.7 719.8"/>
<path class="m" d="M199.2 726.5Q201.0 727.7 201.8 729.8L203.1 733.1Q203.9 735.2 202.8 736.0L201.2 737.4Q200.1 738.3 198.2 737.0L195.2 735.1Q193.4 733.9 192.6 731.8L191.3 728.5Q190.5 726.4 191.6 725.6L193.2 724.2Q194.3 723.3 196.2 724.6Z" fill="#f7f7f7" />
<ellipse class="t" cx="197.2" cy="730.8" rx="2.9" ry="5.2" fill="none" transform="rotate(-39.0 197.2 730.8)"/>
<path class="n" d="M525.1 352.0L510.7 363.2L514.5 368.0L528.9 356.8Z" fill="#f7f7f7" />
<path class="m" d="M525.1 352.0L510.7 363.2M528.9 356.8L514.5 368.0" fill="none" />
<ellipse class="m" cx="512.6" cy="365.6" rx="1.7" ry="3.1" fill="#f7f7f7" transform="rotate(142.1 512.6 365.6)"/>
<path class="t" d="M525.0 352.0L527.4 358.0"/>
<path class="t" d="M523.4 353.3L525.8 359.3"/>
<path class="t" d="M521.8 354.5L524.2 360.5"/>
<path class="t" d="M520.2 355.8L522.6 361.8"/>
<path class="t" d="M518.6 357.0L521.0 363.0"/>
<path class="t" d="M517.0 358.2L519.4 364.2"/>
<path class="t" d="M515.4 359.5L517.8 365.5"/>
<path class="t" d="M513.8 360.7L516.2 366.7"/>
<path class="t" d="M512.2 362.0L514.6 368.0"/>
<path class="m" d="M509.4 364.2Q506 365 505.4 368.6Q505.4 372 508.2 373.4Q511.4 374 513.4 371.8Q515.4 369.4 514.6 366.6Q513 363.6 509.4 364.2Z" fill="#f7f7f7" />
<path class="t" d="M509.6 364.4Q511.6 366.4 511.4 369.6Q510.8 372.4 508.4 373.4M506.4 367.2L510.6 371" fill="none" />
<path class="m" d="M267.1 591.5L270.1 589.0A3.02 5.40 -39.8 0 0 263.1 580.8L260.1 583.3" fill="#f7f7f7" />
<ellipse class="m" cx="263.6" cy="587.4" rx="3.0" ry="5.4" fill="#f7f7f7" transform="rotate(-39.8 263.6 587.4)"/>
<path class="m" d="M269.8 580.2Q273.4 581.6 273.2 585.6" fill="none" />
<path class="n" d="M260.8 586.2L246.0 598.4L249.6 602.8L264.4 590.6Z" fill="#f7f7f7" />
<path class="m" d="M260.8 586.2L246.0 598.4M264.4 590.6L249.6 602.8" fill="none" />
<ellipse class="m" cx="247.8" cy="600.6" rx="1.6" ry="2.8" fill="#f7f7f7" transform="rotate(140.5 247.8 600.6)"/>
<path class="t" d="M259.9 587.0L262.1 592.5"/>
<path class="t" d="M258.1 588.5L260.3 593.9"/>
<path class="t" d="M256.4 589.9L258.6 595.4"/>
<path class="t" d="M254.6 591.3L256.8 596.8"/>
<path class="t" d="M252.9 592.8L255.0 598.3"/>
<path class="t" d="M251.1 594.2L253.3 599.7"/>
<path class="t" d="M249.3 595.7L251.5 601.2"/>
<path class="t" d="M247.6 597.1L249.8 602.6"/>
<path class="m" d="M482.9 354.4L474 347.2Q471 345.4 468.8 347.4Q467 350 468.6 353.2Q470 355.4 472 355.6" fill="none" />
<path class="t" d="M482 355.6L473.2 348.4" fill="none" />
<path class="m" d="M494.2 375.4L501.8 381.4Q505 383 506.6 380Q507.4 377.6 505 375.2" fill="none" />
<path class="t" d="M495.2 374.4L502.6 380.2" fill="none" />
<path class="m" d="M498.8 366.7L484.0 355.5A2.66 4.75 -142.9 0 0 478.2 363.1L493.0 374.3" fill="#f7f7f7" />
<path class="m" d="M497.9 366.0A2.66 4.75 -142.9 0 0 492.1 373.6" fill="none" />
<path class="m" d="M496.4 364.9A2.66 4.75 -142.9 0 0 490.7 372.5" fill="none" />
<path class="m" d="M494.9 363.8A2.66 4.75 -142.9 0 0 489.2 371.4" fill="none" />
<path class="m" d="M493.4 362.7A2.66 4.75 -142.9 0 0 487.7 370.3" fill="none" />
<path class="m" d="M492.0 361.6A2.66 4.75 -142.9 0 0 486.2 369.1" fill="none" />
<path class="m" d="M490.5 360.4A2.66 4.75 -142.9 0 0 484.7 368.0" fill="none" />
<path class="m" d="M489.0 359.3A2.66 4.75 -142.9 0 0 483.3 366.9" fill="none" />
<path class="m" d="M487.5 358.2A2.66 4.75 -142.9 0 0 481.8 365.8" fill="none" />
<path class="m" d="M486.0 357.1A2.66 4.75 -142.9 0 0 480.3 364.7" fill="none" />
<path class="m" d="M484.6 356.0A2.66 4.75 -142.9 0 0 478.8 363.5" fill="none" />
<ellipse class="m" cx="495.9" cy="370.5" rx="2.7" ry="4.8" fill="#f7f7f7" transform="rotate(-142.9 495.9 370.5)"/>
<path class="m" d="M166.0 643.2L158 636.8Q155.4 635.4 153.4 637Q151.8 639 152.8 641.8Q153.8 643.6 155.2 644" fill="none" />
<path class="t" d="M165.2 644.4L157.2 638" fill="none" />
<path class="m" d="M179.6 664.6L187.2 670.8Q190 672.4 191.8 670Q192.8 667.6 190.4 665" fill="none" />
<path class="t" d="M180.6 663.6L188 669.6" fill="none" />
<path class="m" d="M183.6 656.3L167.8 644.3A2.74 4.90 -142.8 0 0 161.8 652.1L177.6 664.1" fill="#f7f7f7" />
<path class="m" d="M182.6 655.6A2.74 4.90 -142.8 0 0 176.7 663.4" fill="none" />
<path class="m" d="M181.0 654.4A2.74 4.90 -142.8 0 0 175.1 662.2" fill="none" />
<path class="m" d="M179.5 653.2A2.74 4.90 -142.8 0 0 173.5 661.0" fill="none" />
<path class="m" d="M177.9 652.0A2.74 4.90 -142.8 0 0 171.9 659.8" fill="none" />
<path class="m" d="M176.3 650.8A2.74 4.90 -142.8 0 0 170.4 658.6" fill="none" />
<path class="m" d="M174.7 649.6A2.74 4.90 -142.8 0 0 168.8 657.4" fill="none" />
<path class="m" d="M173.1 648.4A2.74 4.90 -142.8 0 0 167.2 656.2" fill="none" />
<path class="m" d="M171.6 647.2A2.74 4.90 -142.8 0 0 165.6 655.0" fill="none" />
<path class="m" d="M170.0 646.0A2.74 4.90 -142.8 0 0 164.0 653.8" fill="none" />
<path class="m" d="M168.4 644.8A2.74 4.90 -142.8 0 0 162.5 652.6" fill="none" />
<ellipse class="m" cx="180.6" cy="660.2" rx="2.7" ry="4.9" fill="#f7f7f7" transform="rotate(-142.8 180.6 660.2)"/>
<path class="m" d="M505.3 509.6L549.1 473.0A9.58 17.10 -39.9 0 0 527.1 446.8L483.3 483.4" fill="#f7f7f7" />
<path class="t" d="M506.6 508.5A9.58 17.10 -39.9 0 0 484.7 482.2" fill="none" />
<path class="t" d="M509.0 506.5A9.58 17.10 -39.9 0 0 487.0 480.3" fill="none" />
<path class="t" d="M511.3 504.6A9.58 17.10 -39.9 0 0 489.3 478.4" fill="none" />
<path class="t" d="M513.6 502.7A9.58 17.10 -39.9 0 0 491.6 476.4" fill="none" />
<path class="t" d="M515.9 500.8A9.58 17.10 -39.9 0 0 493.9 474.5" fill="none" />
<path class="t" d="M518.2 498.8A9.58 17.10 -39.9 0 0 496.2 472.6" fill="none" />
<path class="t" d="M520.5 496.9A9.58 17.10 -39.9 0 0 498.5 470.7" fill="none" />
<path class="t" d="M522.8 495.0A9.58 17.10 -39.9 0 0 500.9 468.7" fill="none" />
<path class="t" d="M525.1 493.1A9.58 17.10 -39.9 0 0 503.2 466.8" fill="none" />
<path class="t" d="M527.4 491.1A9.58 17.10 -39.9 0 0 505.5 464.9" fill="none" />
<path class="t" d="M529.7 489.2A9.58 17.10 -39.9 0 0 507.8 463.0" fill="none" />
<path class="t" d="M532.0 487.3A9.58 17.10 -39.9 0 0 510.1 461.0" fill="none" />
<path class="t" d="M534.3 485.4A9.58 17.10 -39.9 0 0 512.4 459.1" fill="none" />
<path class="t" d="M536.6 483.4A9.58 17.10 -39.9 0 0 514.7 457.2" fill="none" />
<path class="t" d="M538.9 481.5A9.58 17.10 -39.9 0 0 517.0 455.3" fill="none" />
<path class="t" d="M541.2 479.6A9.58 17.10 -39.9 0 0 519.3 453.3" fill="none" />
<path class="t" d="M543.5 477.6A9.58 17.10 -39.9 0 0 521.6 451.4" fill="none" />
<path class="t" d="M545.8 475.7A9.58 17.10 -39.9 0 0 523.9 449.5" fill="none" />
<path class="t" d="M548.1 473.8A9.58 17.10 -39.9 0 0 526.2 447.5" fill="none" />
<path class="m" d="M505.3 509.6A9.58 17.10 -39.9 0 0 483.3 483.4" fill="#f7f7f7" />
<ellipse class="m" cx="494.3" cy="496.5" rx="9.6" ry="17.1" fill="#f7f7f7" transform="rotate(-39.9 494.3 496.5)"/>
<ellipse class="m" cx="495.2" cy="495.7" rx="6.9" ry="13.0" fill="#f7f7f7" transform="rotate(-39.9 495.2 495.7)"/>
<path class="t" d="M496.4 485.2Q501.4 493.7 500.4 505.2" fill="none" />
<path class="t" d="M499.7 486.2Q503.9 493.7 503.1 502.7" fill="none" />
<path class="m" d="M490.8 507.4Q492.4 501.8 496 499.4L498.4 501Q495 503.4 494 507L513.4 518.6L514.6 521L512.2 520.8Z" fill="#f7f7f7" />
<path class="m" d="M541.4 443.2Q541.6 434.4 538 430Q534.6 426 531 426.6Q528 427.6 527.4 430.4L529.4 431Q530.4 428.8 532.2 428.8Q534.6 429 536.8 432Q539.2 436 539 443.6" fill="#f7f7f7" />
<g transform="translate(570.00 420.00) scale(0.18491)" >
<path class="m" d="M185 178Q185 166 196 156L228 126Q240 116 252 126L376 230Q386 238 386 250L386 268Q386 278 376 288L340 322Q330 332 314 332Q300 332 290 322L196 244Q186 236 186 224Z" fill="#f7f7f7" />
<path class="m" d="M187 176Q192 184 200 190L312 282Q324 292 336 284L384 246M325 290Q330 310 322 331" fill="none" />
<ellipse class="m" cx="213.0" cy="230.0" rx="13.0" ry="19.0" fill="none" transform="rotate(-50.0 213.0 230.0)"/>
<ellipse class="m" cx="280.0" cy="196.0" rx="7.0" ry="4.0" fill="none" transform="rotate(0.0 280.0 196.0)"/>
<ellipse class="m" cx="291.0" cy="291.0" rx="13.0" ry="19.0" fill="none" transform="rotate(-50.0 291.0 291.0)"/>
<path class="t" d="M225 240L268 274L280 262L268 274L274 284M274 196L286 196M280 190L280 202" fill="none" />
</g>
<g transform="translate(260.00 690.00) scale(0.19916)" >
<path class="m" d="M155 178Q155 166 166 156L195 130Q207 120 219 130L328 228Q338 236 338 248L338 266Q338 276 328 284L296 312Q286 322 272 322Q258 322 248 312L166 244Q156 236 156 224Z" fill="#f7f7f7" />
<path class="m" d="M157 176Q162 184 170 190L268 270Q280 280 292 272L336 242M281 278Q286 300 278 321" fill="none" />
<ellipse class="m" cx="184.0" cy="228.0" rx="11.0" ry="17.0" fill="none" transform="rotate(-50.0 184.0 228.0)"/>
<ellipse class="m" cx="240.0" cy="194.0" rx="7.0" ry="4.0" fill="none" transform="rotate(0.0 240.0 194.0)"/>
<path class="t" d="M196 238L238 268M234 250L262 272L262 300L240 282ZM236 194L246 190" fill="none" />
</g>
<path class="m" d="M617.9 542.0L617.9 528.2Q620.9 525.8 623.9 528.2L623.9 542.0" fill="#f7f7f7" />
<path class="t" d="M617.9 529.6Q620.9 530.9 623.9 529.6" fill="none" />
<path class="t" d="M617.9 531.5Q620.9 532.8 623.9 531.5" fill="none" />
<path class="t" d="M617.9 533.4Q620.9 534.7 623.9 533.4" fill="none" />
<path class="t" d="M617.9 535.3Q620.9 536.6 623.9 535.3" fill="none" />
<path class="t" d="M617.9 537.2Q620.9 538.5 623.9 537.2" fill="none" />
<path class="t" d="M617.9 539.1Q620.9 540.4 623.9 539.1" fill="none" />
<path class="t" d="M617.9 541.0Q620.9 542.3 623.9 541.0" fill="none" />
<path class="m" d="M614.8 543.6L614.8 554.2Q620.9 559.4 627.0 554.2L627.0 543.6" fill="#f7f7f7" />
<ellipse class="m" cx="620.9" cy="543.6" rx="6.1" ry="2.9" fill="#f7f7f7" transform="rotate(0.0 620.9 543.6)"/>
<path class="m" d="M614.8 547.4Q620.9 552.4 627.0 547.4" fill="none" />
<path class="t" d="M617.5 543.2Q620.9 545.6 624.3 543.2" fill="none" />
<path class="t" d="M618.3 550.0L618.3 556.4M623.5 550.0L623.5 556.4" fill="none" />
<path class="m" d="M304.6 813.4L304.6 798.6Q307.6 796.2 310.6 798.6L310.6 813.4" fill="#f7f7f7" />
<path class="t" d="M304.6 800.0Q307.6 801.3 310.6 800.0" fill="none" />
<path class="t" d="M304.6 801.9Q307.6 803.2 310.6 801.9" fill="none" />
<path class="t" d="M304.6 803.8Q307.6 805.1 310.6 803.8" fill="none" />
<path class="t" d="M304.6 805.7Q307.6 807.0 310.6 805.7" fill="none" />
<path class="t" d="M304.6 807.6Q307.6 808.9 310.6 807.6" fill="none" />
<path class="t" d="M304.6 809.5Q307.6 810.8 310.6 809.5" fill="none" />
<path class="t" d="M304.6 811.4Q307.6 812.7 310.6 811.4" fill="none" />
<path class="m" d="M301.5 815.0L301.5 824.8Q307.6 830.0 313.7 824.8L313.7 815.0" fill="#f7f7f7" />
<ellipse class="m" cx="307.6" cy="815.0" rx="6.1" ry="2.9" fill="#f7f7f7" transform="rotate(0.0 307.6 815.0)"/>
<path class="m" d="M301.5 818.8Q307.6 823.8 313.7 818.8" fill="none" />
<path class="t" d="M304.2 814.6Q307.6 817.0 311.0 814.6" fill="none" />
<path class="t" d="M305.0 821.4L305.0 827.0M310.2 821.4L310.2 827.0" fill="none" />
<g transform="translate(340.00 440.00) scale(0.19916)" >
<path class="p" d="M430 118Q405 118 396 150Q392 178 410 190L470 226Q472 262 492 282Q510 290 524 276L572 306L602 290L612 242Z" fill="#f7f7f7" />
<ellipse class="p" cx="421.0" cy="180.0" rx="11.0" ry="15.0" fill="none" transform="rotate(-40.0 421.0 180.0)"/>
<ellipse class="p" cx="506.0" cy="266.0" rx="13.0" ry="18.0" fill="none" transform="rotate(-40.0 506.0 266.0)"/>
<path class="p" d="M430 118L612 242M545 180L575 235" fill="none" />
<path class="p" d="M572 160Q578 140 604 138Q640 142 650 170Q652 196 636 206L610 238" fill="none" />
<path class="p" d="M572 160Q590 150 610 160Q630 176 628 200" fill="none" />
<path class="p" d="M612 242L703 300M602 290L640 282L703 330M640 282L620 250" fill="none" />
<path class="p" d="M326 440L490 290" fill="none" />
</g>
<g transform="translate(350.00 500.00) scale(0.17071)" >
<path class="p" d="M166 60Q142 50 112 74Q88 100 92 124Q98 142 112 152L170 226Q188 262 192 300Q196 346 212 386" fill="none" />
<path class="p" d="M166 60L320 170Q346 192 352 216L346 248L310 270L296 226L320 170" fill="none" />
<ellipse class="p" cx="125.0" cy="140.0" rx="13.0" ry="21.0" fill="none" transform="rotate(-40.0 125.0 140.0)"/>
<path class="p" d="M190 272Q236 244 296 266M196 292Q240 274 292 290M296 226L200 160" fill="none" />
<path class="p" d="M300 286L332 268L348 290M288 322Q300 292 332 280" fill="none" />
<path class="p" d="M298 290L40 540M312 300L60 548" fill="none" />
<path class="p" d="M470 432L300 600" fill="none" />
<path class="p2" d="M70 520L130 460M76 528L136 468M176 626L236 576M182 634L242 584M270 530L330 480M300 546L346 502" fill="none" />
<path class="p" d="M348 290Q404 340 446 400Q468 430 490 500L700 680M330 300Q388 350 424 408Q446 440 470 506L690 690M396 436L470 420M440 440L476 448" fill="none" />
<path class="p" d="M300 600L332 610L520 690M316 622L500 700M266 640L300 700M290 626L330 690" fill="none" />
<path class="p" d="M320 166L500 0M520 500L690 340" fill="none" />
<path class="p" d="M0 572L40 560Q110 596 160 680M0 600Q60 620 100 700" fill="none" />
</g>
<g transform="translate(290.00 570.00) scale(0.17071)" >
<path class="p" d="M6 590L80 535M30 630L106 576M6 590Q-6 612 30 630M80 535Q100 548 106 576" fill="none" />
<path class="t" d="M14 588.0L32 618.0" fill="none" />
<path class="t" d="M24 580.6L42 610.6" fill="none" />
<path class="t" d="M34 573.2L52 603.2" fill="none" />
<path class="t" d="M44 565.8L62 595.8" fill="none" />
<path class="t" d="M54 558.4L72 588.4" fill="none" />
<path class="t" d="M64 551.0L82 581.0" fill="none" />
<path class="t" d="M74 543.6L92 573.6" fill="none" />
<path class="p" d="M82 530L290 344M106 576L346 386M140 455L150 476L186 496L180 516" fill="none" />
<path class="p" d="M290 344Q270 300 282 270L332 230M346 386Q380 400 392 394L402 350M282 270Q320 290 346 340Q352 370 346 386M300 258Q340 276 366 330Q372 360 366 392" fill="none" />
<path class="p" d="M332 230Q326 196 356 150L400 120M402 350Q440 348 500 330L520 300M356 150Q430 190 500 280Q516 310 500 330M376 138Q460 190 524 288" fill="none" />
<path class="p" d="M400 120L546 0M520 300L703 150" fill="none" />
<path class="p2" d="M430 116L500 56M438 124L508 64M526 216L586 166M532 224L592 174M600 146L703 70M608 154L703 84" fill="none" />
<path class="p" d="M610 236L650 290L703 266M640 196L703 210" fill="none" />
</g>
<g transform="translate(400.00 440.00) scale(0.22758)" >
<path class="p" d="M266 196Q330 236 386 310Q398 334 402 352M250 236Q310 272 356 330Q370 350 376 366M300 216Q350 250 392 330" fill="none" />
<ellipse class="p" cx="390.0" cy="412.0" rx="106.0" ry="62.0" fill="#f7f7f7" transform="rotate(-4.0 390.0 412.0)"/>
<path class="p" d="M284 418L288 486Q300 520 340 546Q400 572 460 548Q500 520 500 480L496 408" fill="none" />
<path class="p" d="M288 480Q330 520 400 520Q470 512 498 476M292 500Q340 540 404 538Q470 530 500 494" fill="none" />
<path class="p" d="M330 440L440 380M340 456L450 396M350 380L420 344" fill="none" />
<path class="p" d="M300 520L250 566M166 266L120 304" fill="none" />
</g>
<path class="l" d="M586.8 388.3L576.4 395.0" fill="none" />
<path class="l" d="M574.0 426.7L558.0 440.5" fill="none" />
<path class="l" d="M537.0 344.5L553.0 330.5" fill="none" />
<path class="l" d="M250.0 710.8L262.6 699.2" fill="none" />
<path class="l" d="M244.6 687.4L250.4 682.0" fill="none" />
<path class="l" d="M480.3 306.8L486.0 302.2" fill="none" />
<path class="l" d="M176.6 574.4L170.0 580.2" fill="none" />
<path class="l" d="M491.0 296.6L484.6 302.2" fill="none" />
<text class="lb" transform="translate(517.9 88.6) scale(0.78 1)" font-size="14.9" text-anchor="start" fill="#303030">22</text>
<text class="lb" transform="translate(537.3 168.4) scale(0.78 1)" font-size="14.9" text-anchor="start" fill="#303030">24</text>
<text class="lb" transform="translate(451.4 207.3) scale(0.78 1)" font-size="14.9" text-anchor="start" fill="#303030">26</text>
<text class="lb" transform="translate(566.8 259.3) scale(0.78 1)" font-size="14.9" text-anchor="start" fill="#303030">20</text>
<text class="lb" transform="translate(554.8 274.9) scale(0.78 1)" font-size="14.9" text-anchor="start" fill="#303030">19</text>
<text class="lb" transform="translate(436.6 293.1) scale(0.78 1)" font-size="14.9" text-anchor="start" fill="#303030">12</text>
<text class="lb" transform="translate(415.7 318.0) scale(0.78 1)" font-size="14.9" text-anchor="start" fill="#303030">18</text>
<text class="lb" transform="translate(606.0 319.1) scale(0.78 1)" font-size="14.9" text-anchor="start" fill="#303030">17</text>
<text class="lb" transform="translate(591.6 333.1) scale(0.78 1)" font-size="14.9" text-anchor="start" fill="#303030" font-style="italic">16</text>
<text class="lb" transform="translate(394.7 350.7) scale(0.78 1)" font-size="14.9" text-anchor="start" fill="#303030">13</text>
<text class="lb" transform="translate(486.9 345.9) scale(0.78 1)" font-size="14.9" text-anchor="start" fill="#303030">15</text>
<text class="lb" transform="translate(577.2 360.7) scale(0.78 1)" font-size="14.9" text-anchor="start" fill="#303030">9</text>
<text class="lb" transform="translate(659.9 381.1) scale(0.78 1)" font-size="14.9" text-anchor="start" fill="#303030">8</text>
<text class="lb" transform="translate(370.9 381.5) scale(0.78 1)" font-size="14.9" text-anchor="start" fill="#303030">14</text>
<text class="lb" transform="translate(456.2 392.3) scale(0.78 1)" font-size="14.9" text-anchor="start" fill="#303030">21</text>
<text class="lb" transform="translate(641.8 415.7) scale(0.78 1)" font-size="14.9" text-anchor="start" fill="#303030">6</text>
<text class="lb" transform="translate(624.6 427.7) scale(0.78 1)" font-size="14.9" text-anchor="start" fill="#303030">5</text>
<text class="lb" transform="translate(471.9 410.4) scale(0.78 1)" font-size="14.9" text-anchor="start" fill="#303030">10</text>
<text class="lb" transform="translate(492.1 402.7) scale(0.78 1)" font-size="14.9" text-anchor="start" fill="#303030">9</text>
<text class="lb" transform="translate(454.4 422.7) scale(0.78 1)" font-size="14.9" text-anchor="start" fill="#303030" font-style="italic">11</text>
<text class="lb" transform="translate(660.0 471.1) scale(0.78 1)" font-size="14.9" text-anchor="start" fill="#303030">3</text>
<text class="lb" transform="translate(551.2 514.9) scale(0.78 1)" font-size="14.9" text-anchor="start" fill="#303030">1</text>
<text class="lb" transform="translate(655.8 551.3) scale(0.78 1)" font-size="14.9" text-anchor="start" fill="#303030">4</text>
<text class="lb" transform="translate(178.0 216.7) scale(0.78 1)" font-size="14.9" text-anchor="start" fill="#303030">22</text>
<text class="lb" transform="translate(272.4 343.3) scale(0.78 1)" font-size="14.9" text-anchor="start" fill="#303030">23</text>
<text class="lb" transform="translate(140.8 476.9) scale(0.78 1)" font-size="14.9" text-anchor="start" fill="#303030" font-style="italic">25</text>
<text class="lb" transform="translate(178.1 519.5) scale(0.78 1)" font-size="14.9" text-anchor="start" fill="#303030">18</text>
<text class="lb" transform="translate(249.8 561.5) scale(0.78 1)" font-size="14.9" text-anchor="start" fill="#303030">14</text>
<text class="lb" transform="translate(267.4 554.7) scale(0.78 1)" font-size="14.9" text-anchor="start" fill="#303030">14</text>
<text class="lb" transform="translate(124.0 560.5) scale(0.78 1)" font-size="14.9" text-anchor="start" fill="#303030">19</text>
<text class="lb" transform="translate(101.4 580.5) scale(0.78 1)" font-size="14.9" text-anchor="start" fill="#303030">20</text>
<text class="lb" transform="translate(217.5 589.1) scale(0.78 1)" font-size="14.9" text-anchor="start" fill="#303030">12</text>
<text class="lb" transform="translate(236.3 579.9) scale(0.78 1)" font-size="14.9" text-anchor="start" fill="#303030">13</text>
<text class="lb" transform="translate(271.1 607.0) scale(0.78 1)" font-size="14.9" text-anchor="start" fill="#303030">15</text>
<text class="lb" transform="translate(292.7 617.1) scale(0.78 1)" font-size="14.9" text-anchor="start" fill="#303030">11</text>
<text class="lb" transform="translate(272.6 625.0) scale(0.78 1)" font-size="14.9" text-anchor="start" fill="#303030">10</text>
<text class="lb" transform="translate(265.9 642.5) scale(0.78 1)" font-size="14.9" text-anchor="start" fill="#303030">9</text>
<text class="lb" transform="translate(216.1 651.1) scale(0.78 1)" font-size="14.9" text-anchor="start" fill="#303030" font-style="italic">16</text>
<text class="lb" transform="translate(202.4 662.5) scale(0.78 1)" font-size="14.9" text-anchor="start" fill="#303030">19</text>
<text class="lb" transform="translate(133.1 684.1) scale(0.78 1)" font-size="14.9" text-anchor="start" fill="#303030">21</text>
<text class="lb" transform="translate(214.4 681.9) scale(0.78 1)" font-size="14.9" text-anchor="start" fill="#303030">9</text>
<text class="lb" transform="translate(336.1 702.3) scale(0.78 1)" font-size="14.9" text-anchor="start" fill="#303030">2</text>
<text class="lb" transform="translate(258.9 735.8) scale(0.78 1)" font-size="14.9" text-anchor="start" fill="#303030">5</text>
<text class="lb" transform="translate(244.6 747.9) scale(0.78 1)" font-size="14.9" text-anchor="start" fill="#303030">6</text>
<text class="lb" transform="translate(229.8 759.9) scale(0.78 1)" font-size="14.9" text-anchor="start" fill="#303030">7</text>
<text class="lb" transform="translate(356.6 746.7) scale(0.78 1)" font-size="14.9" text-anchor="start" fill="#303030">3</text>
<text class="lb" transform="translate(353.6 817.8) scale(0.78 1)" font-size="14.9" text-anchor="start" fill="#303030">4</text>
<text transform="translate(267.2 34.6) scale(0.9 1)" font-size="24" fill="#505050" class="ti" textLength="216" lengthAdjust="spacingAndGlyphs">20.&#160; 이송(종이송)관계</text>
<text transform="translate(362.6 927.2) scale(0.82 1)" font-size="16.4" text-anchor="middle" fill="#555" class="pg">– 94 –</text>
<path d="M5.0 985.7v2.5M7.0 987.4v1.8M9.0 987.3v0.9M12.4 985.3v1.0M15.8 988.7v1.1M18.4 987.8v3.3M22.5 986.8v3.3M24.4 988.9v1.6M26.6 985.5v1.6M31.6 985.8v2.3M35.9 986.7v2.2M37.9 985.3v1.3M42.3 986.9v1.6M46.3 987.0v1.6M51.2 988.1v1.4M55.3 987.4v3.1M59.9 986.3v3.3M62.1 986.9v2.8M64.4 987.2v0.9M68.8 988.4v2.3M74.0 986.4v2.6M78.1 987.6v2.0M83.2 989.3v2.0M87.5 985.3v2.6M91.8 989.5v2.9M94.7 986.7v2.5M96.5 987.1v1.2M98.7 985.3v2.8M100.9 986.1v1.8M106.1 985.4v2.0M110.0 989.0v2.9M115.2 986.3v1.9" stroke="#dfe3df" stroke-width="0.8" fill="none"/>
<path d="M116.2 989.0v3.3M117.1 985.8v1.4M118.2 987.2v2.3M119.2 985.0v1.9M120.5 987.5v3.3M122.2 987.3v2.4M123.9 985.2v3.1M125.8 988.9v2.9M127.1 986.8v1.1M128.7 985.3v1.0M129.7 985.7v1.7M130.5 985.0v1.2M131.3 986.6v0.9M133.3 987.8v1.2M134.4 986.6v1.7M135.2 988.8v3.4M136.6 987.2v1.0M137.5 986.5v1.5M139.4 985.7v0.9M141.6 987.4v1.2M143.1 985.1v2.2M145.3 988.9v2.6M146.3 986.7v1.2M148.2 987.4v2.8M149.4 986.0v2.9M151.6 988.8v2.9M153.5 988.3v1.4M155.0 986.6v0.9M155.7 986.3v1.5M157.5 989.3v2.0M159.6 989.4v3.3M160.8 986.0v1.4M161.8 985.9v2.4M163.9 988.8v2.0M165.5 988.6v1.0M167.2 989.1v2.8M169.1 987.2v1.3M171.0 986.5v2.9M173.1 986.8v1.8M175.3 988.3v1.2M176.1 985.7v3.2M178.1 985.7v2.9M180.3 988.0v1.7M181.8 985.6v0.8M183.9 987.9v2.2M186.1 987.0v3.1M188.0 985.9v1.5M189.1 986.1v2.3M190.2 986.9v1.1" stroke="#cfcfcf" stroke-width="0.8" fill="none"/>
<path d="M196.2 986.6v2.0M201.0 989.1v1.9M207.3 987.3v2.2M211.7 985.1v1.9M214.5 985.0v2.9M217.4 987.1v2.7M222.0 986.5v2.1M226.5 988.5v1.1M231.2 986.1v1.5M236.8 987.3v2.3M242.3 989.1v2.0M247.2 987.3v2.1M252.4 987.0v2.2M256.6 989.2v2.6M262.7 989.2v1.5M267.3 989.2v3.0M270.0 985.5v1.9M272.3 986.1v1.0M277.4 988.5v3.1M280.2 988.2v2.5M282.8 989.0v3.3M285.8 989.3v1.8M290.1 989.5v3.0M292.9 986.9v2.1M296.5 985.9v1.6M301.8 985.1v2.2M305.9 985.1v1.7M310.8 987.3v1.0M317.4 988.5v3.3M319.9 986.2v0.9M325.5 986.2v1.1M329.5 989.1v2.9M332.7 985.7v3.2M337.4 988.2v1.0M339.6 988.1v1.9M342.0 989.2v2.4M347.7 985.4v3.0M350.0 988.9v2.0" stroke="#dedede" stroke-width="0.8" fill="none"/>
<path d="M355.1 987.5v3.2M357.9 985.6v2.2M360.5 985.5v1.2M362.4 985.9v1.6M365.4 988.4v1.6M369.1 985.8v1.7M370.9 986.1v0.8M375.5 987.5v1.3M379.1 989.2v1.1M384.1 986.9v2.1M389.2 986.8v2.1M393.6 989.4v1.7M398.7 988.2v2.5M402.0 986.6v0.9M404.3 985.3v2.7M407.0 985.7v1.0M412.1 988.9v2.5M414.9 986.1v1.6M418.5 985.7v2.0M421.2 989.3v3.3M425.1 986.1v3.3M428.1 986.6v0.8M431.3 987.1v2.1M433.8 987.3v0.8M436.6 985.4v1.8M438.5 985.1v1.6M441.1 987.6v2.2M445.9 988.0v2.7M451.1 986.8v1.6M456.7 985.7v2.7M461.0 985.2v3.0M466.3 987.8v2.7M471.3 985.6v2.2M475.0 988.8v2.9M480.0 987.6v3.1" stroke="#e2e6e2" stroke-width="0.8" fill="none"/>
<path d="M532.2 988.1v1.4M533.1 985.6v1.7M534.2 988.8v2.3M536.3 987.8v2.6M538.2 985.0v2.9M540.5 987.3v2.2M542.7 985.3v2.7M544.0 985.3v1.5M546.4 985.9v2.7M549.2 987.2v1.8M551.0 988.1v2.8M553.1 987.9v1.0M554.2 986.1v2.7M555.7 987.6v0.8M556.7 986.2v2.5M558.9 988.0v1.6M560.8 987.1v2.0M561.9 989.0v1.3M564.7 989.2v0.8M566.5 988.7v3.3M568.2 986.2v1.3M571.0 985.9v2.3M572.1 987.4v3.3M573.3 988.7v2.1M575.9 988.2v1.4M578.5 987.2v0.9M579.4 987.2v2.0M580.9 985.6v1.7M582.4 988.8v0.8M584.7 988.8v1.1M587.4 988.2v3.1M588.9 986.7v1.8M591.7 987.7v1.7M593.4 986.2v0.9M594.5 988.8v1.5M597.2 986.1v1.5M599.1 985.9v1.8M601.9 989.0v2.9M604.0 989.1v3.2M605.9 988.2v0.9" stroke="#d2d2d2" stroke-width="0.8" fill="none"/>
<path d="M611.8 987.0v2.8M613.5 986.3v0.9M615.6 985.6v2.0M616.8 986.3v2.7M619.0 986.2v2.5M620.1 987.5v1.8M621.0 985.7v1.3M623.1 987.2v1.4M625.2 989.5v2.0M626.1 985.9v1.0M627.3 985.4v1.4M628.3 987.6v3.1M630.2 986.9v1.9M631.6 986.7v1.7M632.4 986.2v3.3M633.3 987.3v2.4M635.3 986.0v1.5M636.3 986.8v2.0M638.5 988.8v3.1M639.2 985.1v2.6M641.2 987.1v2.3M641.9 986.8v3.2M643.9 988.8v3.3M644.9 985.5v1.2M646.4 988.1v3.2M648.2 987.9v2.8M649.6 987.5v0.9M651.4 986.0v3.2M653.1 986.4v1.1M654.2 987.9v2.6M655.0 985.3v2.2M656.6 986.7v1.4M658.2 985.0v1.6M659.6 989.3v2.5M661.6 987.1v1.4M662.7 989.3v2.6M663.8 985.1v2.1M665.5 986.9v1.5M667.2 989.2v1.4M668.0 986.5v1.9M669.7 985.9v2.9M671.5 987.3v1.3M673.7 986.4v2.9M674.7 986.0v2.8M675.8 989.3v2.1M676.8 986.0v1.9M678.5 989.3v1.2M679.8 986.0v3.3M680.7 985.2v1.0M681.9 989.0v3.1M683.7 989.5v3.2M684.9 985.8v3.2M686.7 985.1v2.5M688.0 986.7v1.7M688.9 985.0v1.5M690.1 989.3v1.1M692.3 985.9v1.7M694.3 988.7v1.9M695.0 987.1v1.8M697.1 985.9v1.7M699.2 985.1v1.9M701.1 988.5v0.9" stroke="#cdcdcd" stroke-width="0.8" fill="none"/>
</svg>
</body></html>
